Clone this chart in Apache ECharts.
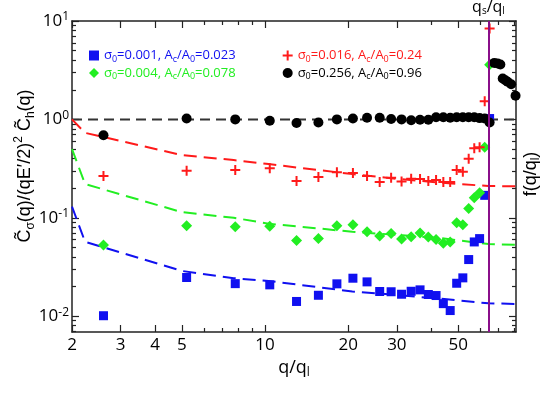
<!DOCTYPE html>
<html>
<head>
<meta charset="utf-8">
<script src="https://cdn.jsdelivr.net/npm/echarts@6/dist/echarts.min.js"></script>
<style>
  html, body { margin: 0; padding: 0; background: #fff; }
  #wrap { position: relative; width: 545px; height: 399px; }
  #axes, #plot { position: absolute; left: 0; top: 0; width: 545px; height: 399px; }
</style>
</head>
<body>
<div id="wrap">
  <div id="axes"></div>
  <div id="plot"></div>
</div>
<script>
// q/q_l of the measured points (shared by the four runs)
const qPts = [2.6, 5.2, 7.8, 10.4, 13.0, 15.6, 18.2, 20.8, 23.4, 26.0, 28.6, 31.2, 33.8,
  36.4, 39.0, 41.6, 44.2, 46.8, 49.4, 52.0, 54.6, 57.2, 59.8, 62.4, 65.0]

const blueVals = [0.0101, 0.0247, 0.0214, 0.0208, 0.0141, 0.0163, 0.0213, 0.0243, 0.0223, 0.0178,
  0.0177, 0.0167, 0.0179, 0.0185, 0.0166, 0.0162, 0.0134, 0.0114, 0.0216, 0.0245, 0.0376,
  0.0568, 0.0614, 0.169, 1.02]
const greenVals = [0.053, 0.083, 0.081, 0.082, 0.0586, 0.0614, 0.083, 0.085, 0.072, 0.0654,
  0.069, 0.061, 0.0643, 0.070, 0.0638, 0.060, 0.055, 0.0567, 0.089, 0.085, 0.124,
  0.16, 0.18, 0.52, 3.6]
const redVals = [0.266, 0.30, 0.305, 0.318, 0.236, 0.26, 0.29, 0.285, 0.266, 0.231,
  0.255, 0.233, 0.249, 0.248, 0.236, 0.242, 0.231, 0.231, 0.306, 0.294, 0.398,
  0.508, 0.52, 1.53, 8.4]
const blackVals = [0.69, 1.02, 1.0, 0.97, 0.92, 0.93, 1.0, 1.02, 1.04, 1.04,
  1.01, 1.0, 0.98, 0.99, 0.99, 1.05, 1.05, 1.04, 1.05, 1.05, 1.05,
  1.05, 1.03, 1.02, 0.93]
// black run beyond q_s
const qBlackHigh = [67.6, 69.5, 71.1, 72.5, 74.1, 75.5, 77.8, 80.7]
const blackHighVals = [3.75, 3.70, 3.62, 2.6, 2.5, 2.41, 2.28, 1.74]

// theory curves f(q/q_l)
const qLine = [2, 2.23, 5.0, 7.7, 10.3, 15.5, 20.7, 30, 43.5, 64.4, 81]
const redLine = [1.0, 0.73, 0.434, 0.386, 0.351, 0.306, 0.278, 0.249, 0.227, 0.21, 0.209]
const greenLine = [0.5, 0.22, 0.114, 0.10, 0.087, 0.078, 0.072, 0.067, 0.062, 0.054, 0.053]
const blueLine = [0.13, 0.057, 0.0288, 0.0243, 0.0228, 0.0197, 0.0178, 0.0164, 0.015, 0.0135, 0.0133]
const qRef = [2, 81]
const refLine = [1, 1]

const qs = 64.4

const xMajor = [2, 3, 4, 5, 10, 20, 30, 50]
const xMinor = [6, 7, 8, 9, 40, 60, 70, 80]
const yMajor = [0.01, 0.1, 1, 10]
const yMinor = [0.007, 0.008, 0.009, 0.02, 0.03, 0.04, 0.05, 0.06, 0.07, 0.08, 0.09,
  0.2, 0.3, 0.4, 0.5, 0.6, 0.7, 0.8, 0.9, 2, 3, 4, 5, 6, 7, 8, 9]

// legend labels; first column is padded so the second column starts at the right place
const names = {
  blue: '{bn|σ}{bs|0}{bn|=0.001, A}{bs|c}{bn|/A}{bs|0}{bp|=0.023}',
  green: '{gn|σ}{gs|0}{gn|=0.004, A}{gs|c}{gn|/A}{gs|0}{gp|=0.078}',
  red: '{rn|σ}{rs|0}{rn|=0.016, A}{rs|c}{rn|/A}{rs|0}{rn|=0.24}',
  black: '{kn|σ}{ks|0}{kn|=0.256, A}{ks|c}{kn|/A}{ks|0}{kn|=0.96}'
}

const FONT = 'Open Sans'
const C = { blue: '#1010f0', green: '#22ee22', red: '#ff1a1a', black: '#000000', purple: '#8a0f8a' }
const GRID = { left: 72, right: 29, top: 21, bottom: 67 }
const X_RANGE = { min: 2, max: 81 }
const Y_RANGE = { min: 0.0069, max: 10 }

function legendRich() {
  const rich = {}
  const keys = { b: C.blue, g: C.green, r: C.red, k: C.black }
  Object.keys(keys).forEach(k => {
    rich[k + 'n'] = { color: keys[k], fontSize: 13, fontFamily: FONT, lineHeight: 16 }
    rich[k + 'p'] = { color: keys[k], fontSize: 13, fontFamily: FONT, lineHeight: 16, padding: [0, 44, 0, 0] }
    rich[k + 's'] = { color: keys[k], fontSize: 9, fontFamily: FONT, lineHeight: 16, verticalAlign: 'bottom' }
  })
  return rich
}

function frameLine() {
  return { show: true, onZero: false, lineStyle: { color: '#222', width: 1.5 } }
}

// major + minor ticks each get their own axis, on both sides of the box
function xAx(pos, ticks, len, labels, line) {
  return {
    type: 'log', logBase: 10, min: X_RANGE.min, max: X_RANGE.max, position: pos,
    axisLine: line ? frameLine() : { show: false },
    axisTick: { show: true, inside: true, length: len, customValues: ticks, lineStyle: { color: '#222', width: 1.2 } },
    axisLabel: labels ? {
      show: true, customValues: xMajor, margin: 5, color: '#000', fontSize: 17, fontFamily: FONT,
      formatter: v => String(Math.round(v))
    } : { show: false },
    splitLine: { show: false }
  }
}

function yAx(pos, ticks, len, labels, line) {
  return {
    type: 'log', logBase: 10, min: Y_RANGE.min, max: Y_RANGE.max, position: pos,
    axisLine: line ? frameLine() : { show: false },
    axisTick: { show: true, inside: true, length: len, customValues: ticks, lineStyle: { color: '#222', width: 1.2 } },
    axisLabel: labels ? {
      show: true, customValues: yMajor, margin: 3, color: '#000',
      formatter: v => '{b|10}{e|' + Math.round(Math.log10(v)) + '}',
      rich: {
        b: { fontSize: 17, fontFamily: FONT, lineHeight: 20 },
        e: { fontSize: 12, fontFamily: FONT, lineHeight: 20, verticalAlign: 'top' }
      }
    } : { show: false },
    splitLine: { show: false }
  }
}

// same scales with nothing drawn, for the data layer
function hiddenAx(range) {
  return {
    type: 'log', logBase: 10, min: range.min, max: range.max,
    axisLine: { show: false }, axisTick: { show: false }, axisLabel: { show: false }, splitLine: { show: false }
  }
}

const plus = 'path://M4,0h2v4h4v2h-4v4h-2v-4h-4v-2h4z'

function pts(xs, ys) { return xs.map((x, i) => [x, ys[i]]) }

function dashed(xs, ys, color, dash) {
  return {
    type: 'line', data: pts(xs, ys), showSymbol: false, silent: true, z: 1,
    lineStyle: { color: color, width: 2, type: dash }
  }
}

function dots(name, xs, ys, symbol, size, color) {
  return {
    name: name, type: 'scatter', data: pts(xs, ys), symbol: symbol, symbolSize: size, z: 3,
    itemStyle: { color: color, opacity: 1 }
  }
}

// frame, ticks and axis titles
const xName = Object.assign(xAx('bottom', xMajor, 7, true, true), {
  name: '{n|q/q}{s|l}', nameLocation: 'middle', nameGap: 24,
  nameTextStyle: {
    color: '#000', fontFamily: FONT,
    rich: { n: { fontSize: 18, lineHeight: 22 }, s: { fontSize: 12, lineHeight: 22, verticalAlign: 'bottom' } }
  }
})

const axesChart = echarts.init(document.getElementById('axes'))
axesChart.setOption({
  animation: false,
  grid: GRID,
  xAxis: [xName, xAx('bottom', xMinor, 4, false, false), xAx('top', xMajor, 7, false, true), xAx('top', xMinor, 4, false, false)],
  yAxis: [yAx('left', yMajor, 7, true, true), yAx('left', yMinor, 4, false, false), yAx('right', yMajor, 7, false, true), yAx('right', yMinor, 4, false, false)],
  graphic: [
    {
      type: 'text', x: 25, y: 166, rotation: Math.PI / 2,
      style: {
        text: '{n|C\u0303}{s|σ}{n|(q)/(qE′/2)}{p|2}{n| C\u0303}{s|h}{n|(q)}',
        align: 'center', verticalAlign: 'middle', fontFamily: FONT,
        rich: {
          n: { fontSize: 18, lineHeight: 24 },
          s: { fontSize: 12, lineHeight: 24, verticalAlign: 'bottom' },
          p: { fontSize: 12, lineHeight: 24, verticalAlign: 'top' }
        }
      }
    },
    {
      type: 'text', x: 531, y: 174, rotation: Math.PI / 2,
      style: {
        text: '{n|f(q/q}{s|l}{n|)}',
        align: 'center', verticalAlign: 'middle', fontFamily: FONT,
        rich: {
          n: { fontSize: 18, lineHeight: 22 },
          s: { fontSize: 12, lineHeight: 22, verticalAlign: 'bottom' }
        }
      }
    }
  ]
})

// data, legend and the q_s marker on a transparent layer above
const blackAll = dots('black', qPts, blackVals, 'circle', 10, C.black)
blackAll.data = blackAll.data.concat(pts(qBlackHigh, blackHighVals))

const plotChart = echarts.init(document.getElementById('plot'))
plotChart.setOption({
  animation: false,
  grid: GRID,
  xAxis: hiddenAx(X_RANGE),
  yAxis: hiddenAx(Y_RANGE),
  legend: {
    left: 89, top: 49, height: 35, orient: 'vertical', padding: 0, itemGap: 3, itemWidth: 10, itemHeight: 10,
    data: ['blue', 'green', 'red', 'black'], formatter: n => names[n], textStyle: { rich: legendRich() }
  },
  series: [
    dashed(qRef, refLine, '#333', [10, 6]),
    dashed(qLine, redLine, C.red, [13, 7]),
    dashed(qLine, greenLine, C.green, [13, 7]),
    dashed(qLine, blueLine, C.blue, [13, 7]),
    dots('blue', qPts, blueVals, 'rect', 9, C.blue),
    dots('green', qPts, greenVals, 'diamond', 11, C.green),
    dots('red', qPts, redVals, plus, 10, C.red),
    blackAll,
    {
      type: 'line', data: [], z: 5,
      markLine: {
        silent: true, symbol: 'none',
        lineStyle: { color: C.purple, width: 2, type: 'solid' },
        label: {
          show: true, position: 'end', color: '#000', fontFamily: FONT,
          formatter: () => '{n|q}{s|s}{n|/q}{s|l}',
          rich: {
            n: { fontSize: 16, lineHeight: 18 },
            s: { fontSize: 10, lineHeight: 18, verticalAlign: 'bottom' }
          }
        },
        data: [{ xAxis: qs }]
      }
    }
  ]
})
</script>
</body>
</html>
